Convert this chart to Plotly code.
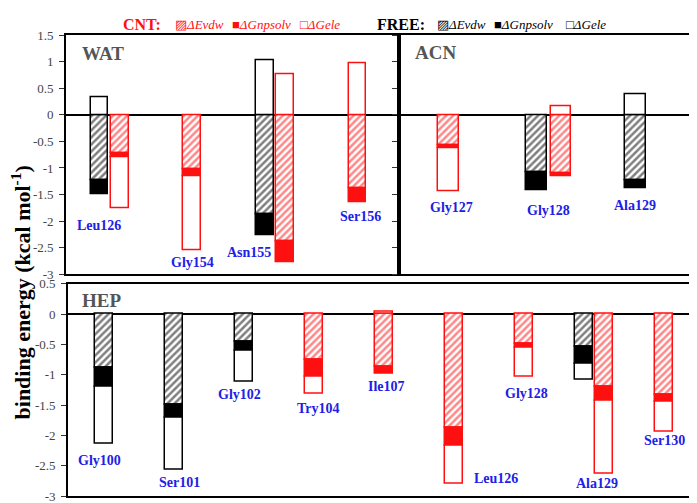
import plotly.graph_objects as go

# ---------------- data (kcal/mol) ----------------
wat_res = ["Leu126", "Gly154", "Asn155", "Ser156"]
wat_pos = [0, 1, 2, 3]
wat_free_evdw = [-1.23, None, -1.88, None]
wat_free_gnp = [-0.26, None, -0.39, None]
wat_free_gele = [0.34, None, 1.02, None]
wat_cnt_evdw = [-0.73, -1.03, -2.39, -1.38]
wat_cnt_gnp = [-0.07, -0.12, -0.39, -0.26]
wat_cnt_gele = [-0.97, -1.41, 0.77, 0.98]

acn_res = ["Gly127", "Gly128", "Ala129"]
acn_pos = [0, 1.215, 2.267]
acn_free_evdw = [None, -1.09, -1.24]
acn_free_gnp = [None, -0.34, -0.15]
acn_free_gele = [None, None, 0.38]
acn_cnt_evdw = [-0.57, -1.10, None]
acn_cnt_gnp = [-0.06, -0.06, None]
acn_cnt_gele = [-0.81, 0.16, None]

hep_res = ["Gly100", "Ser101", "Gly102", "Try104", "Ile107", "Leu126", "Gly128", "Ala129", "Ser130"]
hep_pos = [0, 1, 2, 3, 4, 5, 6, 7, 8]
hep_free_evdw = [-0.89, -1.50, -0.45, None, None, None, None, -0.53, None]
hep_free_gnp = [-0.31, -0.21, -0.15, None, None, None, None, -0.29, None]
hep_free_gele = [-0.93, -0.86, -0.51, None, None, None, None, -0.26, None]
hep_cnt_evdw = [None, None, None, -0.76, -0.87, -1.88, -0.49, -1.20, -1.33]
hep_cnt_gnp = [None, None, None, -0.27, -0.11, -0.29, -0.07, -0.23, -0.11]
hep_cnt_gele = [None, None, None, -0.29, 0.04, -0.63, -0.47, -1.20, -0.50]

y_ticks_top = [1.5, 1, 0.5, 0, -0.5, -1, -1.5, -2, -2.5, -3]
y_ticks_bot = [0.5, 0, -0.5, -1, -1.5, -2, -2.5, -3]

# ---------------- styling ----------------
W, H = 697, 503
RED = "#ff1010"
BLACK = "#000000"
BLUE = "#2020e6"
SERIF = "Liberation Serif, Times New Roman, serif"


def px(x):
    return x / W


def py(y):
    return 1 - y / H


fig = go.Figure()


def add_panel(xa, ya, pos, free, cnt, width, half):
    has_free = [any(v is not None for v in f) for f in zip(*free)]
    has_cnt = [any(v is not None for v in c) for c in zip(*cnt)]
    for group, vals, has, other, color, sign in (
        ("FREE", free, has_free, has_cnt, BLACK, -1),
        ("CNT", cnt, has_cnt, has_free, RED, 1),
    ):
        xs = [p + sign * half if o else p for p, o in zip(pos, other)]
        for k, comp in enumerate(("ΔEvdw", "ΔGnpsolv", "ΔGele")):
            xx = [x for x, v in zip(xs, vals[k]) if v is not None]
            yy = [v for v in vals[k] if v is not None]
            if k == 0:
                marker = dict(color="white", line=dict(color=color, width=1.5),
                              pattern=dict(shape="/", fgcolor=color, bgcolor="white",
                                           size=5, solidity=0.5))
            elif k == 1:
                marker = dict(color=color, line=dict(color=color, width=1.5))
            else:
                marker = dict(color="white", line=dict(color=color, width=1.5))
            fig.add_trace(go.Bar(x=xx, y=yy, width=width, marker=marker,
                                 name=f"{group} {comp}", showlegend=False,
                                 xaxis=xa, yaxis=ya))


add_panel("x", "y", wat_pos,
          (wat_free_evdw, wat_free_gnp, wat_free_gele),
          (wat_cnt_evdw, wat_cnt_gnp, wat_cnt_gele), 0.218, 0.127)
add_panel("x2", "y2", acn_pos,
          (acn_free_evdw, acn_free_gnp, acn_free_gele),
          (acn_cnt_evdw, acn_cnt_gnp, acn_cnt_gele), 0.245, 0.148)
add_panel("x3", "y3", hep_pos,
          (hep_free_evdw, hep_free_gnp, hep_free_gele),
          (hep_cnt_evdw, hep_cnt_gnp, hep_cnt_gele), 0.25, 0.146)

xcommon = dict(showline=True, linecolor="black", linewidth=1.8, mirror=True,
               showticklabels=False, ticks="", showgrid=False, zeroline=False)
ycommon = dict(showline=True, linecolor="black", linewidth=1.8, mirror=True,
               ticks="outside", ticklen=5, tickwidth=1.2, tickcolor="#333",
               ticklabelstandoff=3,
               showgrid=False, zeroline=True, zerolinecolor="black", zerolinewidth=1.6,
               tickfont=dict(family=SERIF, size=13, color="#444"))

fig.update_layout(
    width=W, height=H, barmode="relative", bargap=0,
    margin=dict(l=0, r=0, t=0, b=0),
    paper_bgcolor="white", plot_bgcolor="white",
    xaxis=dict(domain=[px(58), px(391)], range=[-0.533, 3.503], anchor="y", **xcommon),
    xaxis2=dict(domain=[px(391), px(689)], range=[-0.6, 3.012], anchor="y2", **xcommon),
    xaxis3=dict(domain=[px(60), px(690.5)], range=[-0.514, 8.493], anchor="y3", **xcommon),
    yaxis=dict(domain=[py(267), py(21)], range=[-3, 1.5], anchor="x",
               tickvals=y_ticks_top, ticktext=[f"{v:g}" for v in y_ticks_top], **ycommon),
    yaxis2=dict(domain=[py(267), py(21)], range=[-3, 1.5], anchor="x2",
                tickvals=y_ticks_top, **{**ycommon, "showticklabels": False}),
    yaxis3=dict(domain=[py(496), py(277)], range=[-3, 0.5], anchor="x3",
                tickvals=y_ticks_bot, ticktext=[f"{v:g}" for v in y_ticks_bot], **ycommon),
)

ann = []
# residue labels: (residue names, positions, x-offset, y value)
label_place = {
    "x": (wat_res, wat_pos, [-0.137, 0.0, -0.32, 0.04], [-2.09, -2.79, -2.59, -1.91]),
    "x2": (acn_res, acn_pos, [0.04, 0.0, -0.01], [-1.75, -1.80, -1.71]),
    "x3": (hep_res, hep_pos, [-0.06, 0.08, -0.07, 0.06, 0.04, 0.6, 0.04, 0.04, 0.01],
           [-2.41, -2.78, -1.33, -1.55, -1.19, -2.71, -1.31, -2.79, -2.09]),
}
for xa, (names, pos, dxs, ys) in label_place.items():
    ya = xa.replace("x", "y")
    for n, p, dx, yv in zip(names, pos, dxs, ys):
        ann.append(dict(x=p + dx, y=yv, xref=xa, yref=ya, text=f"<b>{n}</b>",
                        showarrow=False, font=dict(family=SERIF, size=14, color=BLUE)))

# panel names
for txt, x, y in (("WAT", 72, 40), ("ACN", 405, 39), ("HEP", 72, 294)):
    ann.append(dict(x=px(x), y=py(y), xref="paper", yref="paper", xanchor="left",
                    yanchor="middle", text=f"<b>{txt}</b>", showarrow=False,
                    font=dict(family=SERIF, size=19, color="#555")))

# axis title
ann.append(dict(x=px(13), y=py(286), xref="paper", yref="paper", textangle=-90,
                xanchor="center", yanchor="middle",
                text="<b>binding energy (kcal mol<sup>-1</sup>)</b>", showarrow=False,
                font=dict(family=SERIF, size=22, color="black")))

# legend built from text
legend_items = [
    (113, "<b>CNT:</b>", RED, 16),
    (165, "▨<i>ΔEvdw</i>", RED, 13),
    (222, "■<i>ΔGnpsolv</i>", RED, 13),
    (290, "□<i>ΔGele</i>", RED, 13),
    (367, "<b>FREE:</b>", BLACK, 16),
    (427, "▨<i>ΔEvdw</i>", BLACK, 13),
    (484, "■<i>ΔGnpsolv</i>", BLACK, 13),
    (556, "□<i>ΔGele</i>", BLACK, 13),
]
for x, t, c, s in legend_items:
    ann.append(dict(x=px(x), y=py(10), xref="paper", yref="paper", xanchor="left",
                    yanchor="middle", text=t, showarrow=False,
                    font=dict(family=SERIF, size=s, color=c)))

fig.update_layout(annotations=ann)
fig.write_html("out.html")
